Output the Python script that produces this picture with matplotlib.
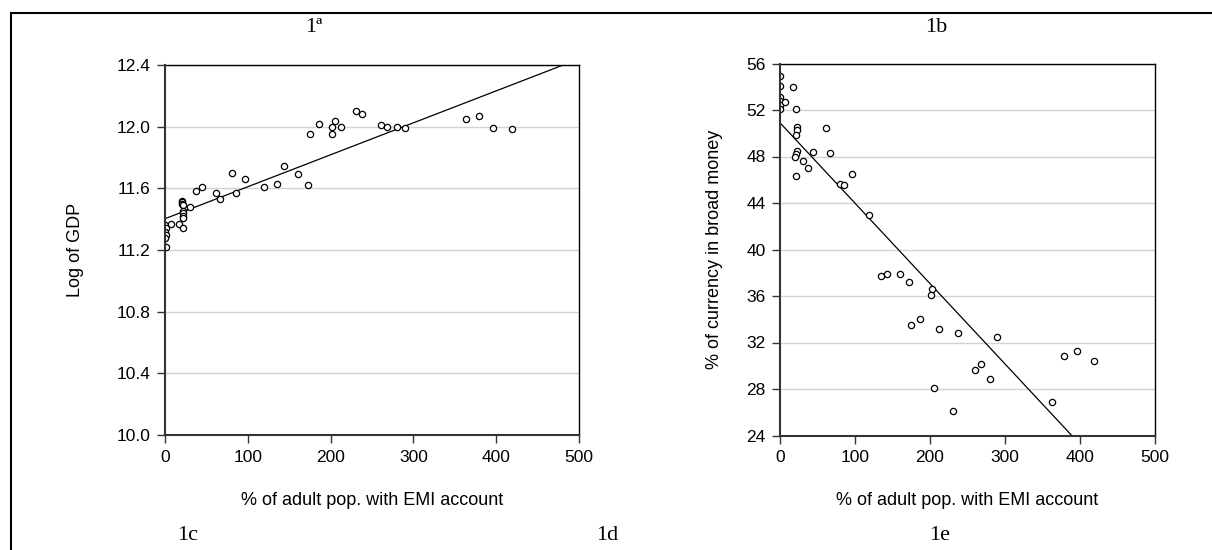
import matplotlib
matplotlib.use("Agg")
import matplotlib.pyplot as plt
import numpy as np
from matplotlib.lines import Line2D

# ---------------- data ----------------
# Panel 1a: log of GDP vs % of adult population with EMI account
emi_a = [0.5, 1.0, 0.0, 1.5, 0.5, 0.8, 7.2, 17.3, 21.7,
         20.0, 20.5, 21.0, 21.5, 22.0, 22.3, 21.7, 21.4,
         30.6, 37.0, 44.7, 62.0, 66.8, 80.9, 85.7, 96.2, 120.0,
         134.9, 143.7, 160.2, 172.3, 174.7, 186.0, 201.3, 202.0,
         205.7, 212.2, 230.7, 237.9, 260.5, 268.5, 280.6, 289.5,
         363.5, 379.2, 396.5, 419.5]
gdp_a = [11.362, 11.34, 11.319, 11.297, 11.276, 11.22, 11.37, 11.37, 11.34,
         11.52, 11.51, 11.50, 11.49, 11.45, 11.44, 11.42, 11.41,
         11.48, 11.58, 11.61, 11.57, 11.53, 11.70, 11.57, 11.66, 11.61,
         11.63, 11.745, 11.69, 11.62, 11.95, 12.02, 11.95, 12.00,
         12.035, 12.00, 12.10, 12.08, 12.01, 12.00, 12.00, 11.99,
         12.05, 12.07, 11.99, 11.985]
fit_a_intercept = 11.403
fit_a_slope = 0.002073

# Panel 1b: % of currency in broad money vs % of adult population with EMI account
emi_b = [0.0, 0.0, 0.0, 0.5, 0.5, 0.3, 7.1, 16.9, 21.4,
         22.7, 22.3, 21.4, 22.7, 21.4, 19.6, 21.8,
         30.3, 37.0, 44.6, 61.9, 66.4, 80.2, 85.6, 95.8, 119.4,
         135.0, 143.0, 160.0, 172.5, 202.3, 201.4, 174.7, 186.3,
         212.1, 238.0, 289.7, 260.7, 268.7, 280.7, 205.4, 230.4,
         363.6, 379.2, 396.6, 419.8]
cur_b = [54.94, 54.05, 53.10, 52.79, 52.42, 52.10, 52.65, 54.02, 52.10,
         50.56, 50.27, 49.81, 48.49, 48.18, 47.95, 46.34,
         47.63, 46.97, 48.38, 50.47, 48.26, 45.66, 45.54, 46.52, 42.96,
         37.75, 37.92, 37.86, 37.23, 36.57, 36.11, 33.54, 34.00,
         33.19, 32.82, 32.50, 29.64, 30.15, 28.84, 28.06, 26.14,
         26.92, 30.84, 31.30, 30.44]
fit_b_intercept = 50.9
fit_b_slope = -0.06906

x_ticks = [0, 100, 200, 300, 400, 500]
y_ticks_a = [10.0, 10.4, 10.8, 11.2, 11.6, 12.0, 12.4]
y_ticks_b = [24, 28, 32, 36, 40, 44, 48, 52, 56]

x_label = "% of adult pop. with EMI account"
y_label_a = "Log of GDP"
y_label_b = "% of currency in broad money"
panel_titles = ["1ª", "1b"]
bottom_labels = ["1c", "1d", "1e"]

# ---------------- figure ----------------
W, H = 1212, 550
fig = plt.figure(figsize=(W / 100, H / 100), dpi=100)
SANS = ["Liberation Sans", "DejaVu Sans"]
SERIF = ["Liberation Serif", "DejaVu Serif"]


def px_rect(x0, y0, x1, y1):
    return [x0 / W, 1 - y1 / H, (x1 - x0) / W, (y1 - y0) / H]


ax_a = fig.add_axes(px_rect(165, 65, 579, 435))
ax_b = fig.add_axes(px_rect(780, 63.5, 1154.5, 435.5))


def style(ax, x, y, a, b, yticks, fmt, ylabel, ylab_x):
    ax.set_xlim(0, 500)
    ax.set_ylim(yticks[0], yticks[-1])
    ax.set_xticks(x_ticks)
    ax.set_yticks(yticks)
    ax.set_yticklabels([fmt.format(v) for v in yticks])
    ax.grid(axis="y", color="#d2d2d2", linewidth=1.0)
    ax.set_axisbelow(True)
    xs = np.array([0, 500])
    ax.plot(xs, a + b * xs, color="black", linewidth=0.9, zorder=3)
    ax.plot(x, y, linestyle="none", marker="o", markersize=4.5,
            markerfacecolor="white", markeredgecolor="black",
            markeredgewidth=0.9, zorder=4, clip_on=True)
    ax.tick_params(axis="both", direction="out", length=6, width=1.0,
                   pad=4.5, labelsize=12.5, top=False, right=False,
                   color="#333333")
    for lab in ax.get_xticklabels() + ax.get_yticklabels():
        lab.set_family(SANS)
    for s in ("left", "bottom"):
        ax.spines[s].set_linewidth(1.5)
        ax.spines[s].set_color("#333333")
        ax.spines[s].set_zorder(5)
    for s in ("top", "right"):
        ax.spines[s].set_linewidth(1.0)
        ax.spines[s].set_color("black")
    ax.set_xlabel(x_label, fontsize=13, family=SANS)
    ax.xaxis.label.set_va("center")
    ax.xaxis.set_label_coords(0.5, -0.176)
    ax.set_ylabel(ylabel, fontsize=13, family=SANS)
    ax.yaxis.label.set_va("center")
    ax.yaxis.set_label_coords(ylab_x, 0.5)


style(ax_a, emi_a, gdp_a, fit_a_intercept, fit_a_slope, y_ticks_a, "{:.1f}",
      y_label_a, -0.217)
style(ax_b, emi_b, cur_b, fit_b_intercept, fit_b_slope, y_ticks_b, "{:.0f}",
      y_label_b, -0.176)

# panel titles
fig.text(314 / W, 1 - 27 / H, panel_titles[0], ha="center", va="center",
         fontsize=16, family=SERIF)
fig.text(936 / W, 1 - 27 / H, panel_titles[1], ha="center", va="center",
         fontsize=16, family=SERIF)
for xc, t in zip([188, 607, 940], bottom_labels):
    fig.text(xc / W, 1 - 536 / H, t, ha="center", va="center",
             fontsize=16, family=SERIF)

# outer frame (top and left edges)
fig.add_artist(Line2D([11 / W, 1.0], [1 - 13 / H, 1 - 13 / H],
                      transform=fig.transFigure, color="black", linewidth=1.5))
fig.add_artist(Line2D([11 / W, 11 / W], [1 - 13 / H, 0.0],
                      transform=fig.transFigure, color="black", linewidth=1.5))

fig.savefig("out.png", dpi=100)
